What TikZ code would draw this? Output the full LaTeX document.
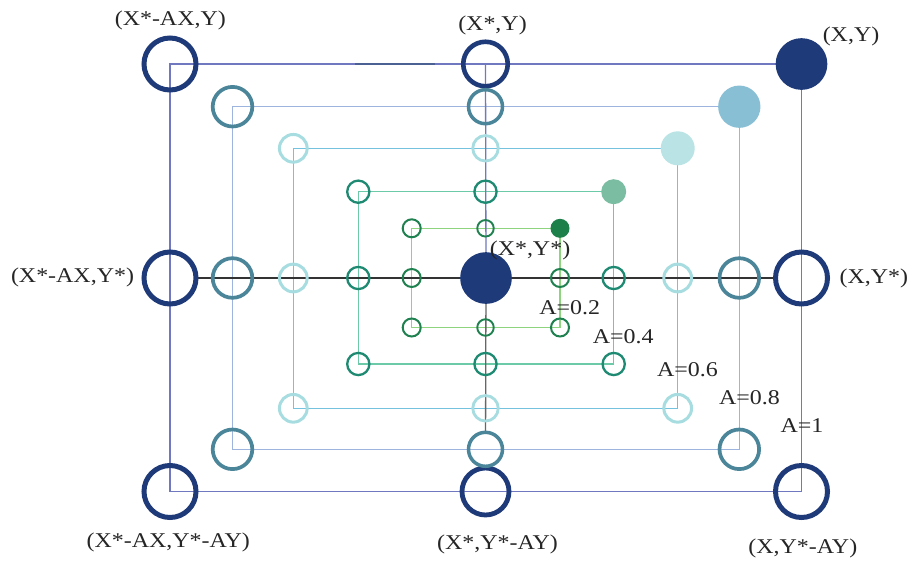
\documentclass[tikz,border=0pt]{standalone}
\usepackage{fontspec}
\setmainfont{Liberation Serif}[FakeStretch=1.14]
\pgfdeclarelayer{bg}
\pgfsetlayers{bg,main}
\definecolor{na}{HTML}{1F3A78}\definecolor{la}{HTML}{7078C0}\definecolor{fa}{HTML}{1F3A78}
\definecolor{nb}{HTML}{4A8599}\definecolor{lb}{HTML}{9DB5DE}\definecolor{fb}{HTML}{89BFD5}
\definecolor{nc}{HTML}{A7DDE0}\definecolor{lc}{HTML}{74C2DE}\definecolor{fc}{HTML}{B9E3E4}
\definecolor{nd}{HTML}{1E8A72}\definecolor{ld}{HTML}{6DCAA9}\definecolor{fd}{HTML}{7BBDA2}
\definecolor{ne}{HTML}{1F8150}\definecolor{le}{HTML}{8ED47E}\definecolor{fe}{HTML}{1D7F4A}
\definecolor{txt}{HTML}{262626}
\tikzset{
  ringbase/.style={circle,inner sep=0pt,outer sep=0pt},
  aring/.style={ringbase,draw=na,line width=5pt,minimum size=52pt},
  aringt/.style={ringbase,draw=na,line width=4.6pt,minimum size=44.5pt},
  aringb/.style={ringbase,draw=na,line width=4.8pt,minimum size=47pt},
  afill/.style={ringbase,fill=fa,minimum size=51.7pt},
  aline/.style={draw=la,line width=1.3pt},
  bring/.style={ringbase,draw=nb,line width=3.7pt,minimum size=39.6pt},
  bringt/.style={ringbase,draw=nb,line width=3.5pt,minimum size=34pt},
  bringb/.style={bringt},
  bfill/.style={ringbase,fill=fb,minimum size=42.3pt},
  bline/.style={draw=lb,line width=1.3pt},
  cring/.style={ringbase,draw=nc,line width=3pt,minimum size=27.7pt},
  cringt/.style={ringbase,draw=nc,line width=2.8pt,minimum size=25.5pt},
  cringb/.style={cringt},
  cfill/.style={ringbase,fill=fc,minimum size=34pt},
  cline/.style={draw=lc,line width=1.3pt},
  dring/.style={ringbase,draw=nd,line width=2.3pt,minimum size=22.2pt},
  dringt/.style={dring},
  dringb/.style={dring},
  dfill/.style={ringbase,fill=fd,minimum size=25pt},
  dline/.style={draw=ld,line width=1.3pt},
  ering/.style={ringbase,draw=ne,line width=2pt,minimum size=18pt},
  eringt/.style={ringbase,draw=ne,line width=1.9pt,minimum size=16.5pt},
  eringb/.style={eringt},
  efill/.style={ringbase,fill=fe,minimum size=19pt},
  eline/.style={draw=le,line width=1.3pt},
  lbl/.style={inner sep=0pt,text=txt,font=\fontsize{21}{24}\selectfont},
}
\newcommand\mklevel[5]{%
  \node[#1ring]  (#1tl) at (#2,#4) {};
  \node[#1ringt] (#1tm) at (485.5,#4) {};
  \node[#1fill]  (#1tr) at (#3,#4) {};
  \node[#1ring]  (#1ml) at (#2,278) {};
  \node[#1ring]  (#1mr) at (#3,278) {};
  \node[#1ring]  (#1bl) at (#2,#5) {};
  \node[#1ringb] (#1bm) at (485.5,#5) {};
  \node[#1ring]  (#1br) at (#3,#5) {};
  \begin{pgfonlayer}{bg}
    \draw[#1line] (#1tl.center) -- (#1tm.center) -- (#1tr.center) -- (#1mr.center)
      -- (#1br.center) -- (#1bm.center) -- (#1bl.center) -- (#1ml.center) -- cycle;
  \end{pgfonlayer}
}
\begin{document}
\begin{tikzpicture}[x=1pt,y=-1pt]
\begin{pgfonlayer}{bg}
\fill[white] (0,0) rectangle (912,560);
\end{pgfonlayer}
\useasboundingbox (0,0) rectangle (912,560);
\mklevel{a}{170}{801.5}{64}{491.5}
\mklevel{b}{232.5}{739.3}{106.7}{449.3}
\mklevel{c}{293.3}{677.7}{148.3}{408.3}
\mklevel{d}{358.3}{613.7}{191.7}{364}
\mklevel{e}{411.7}{560}{228.3}{327.5}
\node[afill] (ctr) at (486,278) {};
\begin{pgfonlayer}{bg}
  \draw[draw=black!80,line width=1.2pt] (aml) -- (amr);
  \draw[draw=la,line width=1.3pt] (atm.center) -- (ctr);
  \draw[draw=black!60,line width=1.3pt] (ctr) -- (bbm);
  \coordinate (s1) at (355,64);
  \coordinate (s2) at (435,64);
  \draw[draw=na!80,line width=1.6pt] (s1) -- (s2);
\end{pgfonlayer}
\node[lbl] (t1) at (170.3,20) {(X*-AX,Y)};
\node[lbl] (t2) at (492.5,25) {(X*,Y)};
\node[lbl] (t3) at (851,36) {(X,Y)};
\node[lbl] (t4) at (72.5,277) {(X*-AX,Y*)};
\node[lbl] (t5) at (873.8,278) {(X,Y*)};
\node[lbl] (t6) at (530,250) {(X*,Y*)};
\node[lbl] (t7) at (569.7,308) {A=0.2};
\node[lbl] (t8) at (623.3,337) {A=0.4};
\node[lbl] (t9) at (687.5,369.5) {A=0.6};
\node[lbl] (t10) at (749.5,398) {A=0.8};
\node[lbl] (t11) at (802,426) {A=1};
\node[lbl] (t12) at (168.3,542) {(X*-AX,Y*-AY)};
\node[lbl] (t13) at (497.5,544) {(X*,Y*-AY)};
\node[lbl] (t14) at (802.8,548) {(X,Y*-AY)};
\end{tikzpicture}
\end{document}
